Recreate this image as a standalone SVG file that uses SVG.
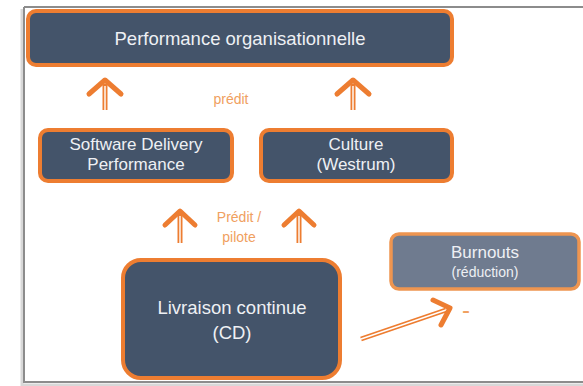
<svg xmlns="http://www.w3.org/2000/svg" width="583" height="386" viewBox="0 0 583 386">
<style>
.box{fill:#44546A;stroke:#ED7D31;stroke-width:4}
.lbl{font-family:"Liberation Sans",Arial,sans-serif;fill:#EEF0F4;text-anchor:middle}
.ann{font-family:"Liberation Sans",Arial,sans-serif;fill:#F0A060;text-anchor:middle;font-size:14px}
.shaft{stroke:#ED7D31;stroke-width:5;fill:none}
.gap{stroke:#FFFFFF;stroke-width:1.4;fill:none}
.head{stroke:#ED7D31;stroke-width:5;fill:none;stroke-linecap:round;stroke-linejoin:round}
</style>
<rect width="583" height="386" fill="#FFFFFF"/>
<g id="frame">
<path d="M22,9 V385 H583" fill="none" stroke="#D8D8D8" stroke-width="3"/>
<path d="M24,7 V382 H583 M24,7 H583" fill="none" stroke="#8C8C8C" stroke-width="2"/>
</g>
<g id="connectors">
<g id="a1">
<line class="shaft" x1="105" y1="84" x2="105" y2="110"/>
<line class="gap" x1="105" y1="86" x2="105" y2="110"/>
<path class="head" d="M89,94 L105,80 L121,94"/>
</g>
<g id="a2">
<line class="shaft" x1="353" y1="84" x2="353" y2="110"/>
<line class="gap" x1="353" y1="86" x2="353" y2="110"/>
<path class="head" d="M337,94 L353,80 L369,94"/>
</g>
<g id="a3">
<line class="shaft" x1="180" y1="214" x2="180" y2="243"/>
<line class="gap" x1="180" y1="216" x2="180" y2="243"/>
<path class="head" d="M165,225 L180,211 L195,225"/>
</g>
<g id="a4">
<line class="shaft" x1="299" y1="214" x2="299" y2="243"/>
<line class="gap" x1="299" y1="216" x2="299" y2="243"/>
<path class="head" d="M284,225 L299,211 L314,225"/>
</g>
<g id="a5">
<line class="shaft" x1="361" y1="339" x2="446" y2="310"/>
<line class="gap" x1="361" y1="339" x2="446" y2="310"/>
<path class="head" d="M433,300 L450,308 L441,325"/>
</g>
<text class="ann" x="231" y="104">prédit</text>
<text class="ann" x="239" y="222">Prédit /</text>
<text class="ann" x="239" y="242">pilote</text>
<text class="ann" x="466" y="318" style="font-size:24px">-</text>
</g>
<g id="n-org">
<rect class="box" x="28" y="11" width="424" height="54" rx="8"/>
<text class="lbl" x="240" y="45" font-size="18.5px">Performance organisationnelle</text>
</g>
<g id="n-sdp">
<rect class="box" x="40" y="130" width="192" height="51" rx="8"/>
<text class="lbl" x="136" y="150" font-size="17px">Software Delivery</text>
<text class="lbl" x="136" y="170" font-size="17px">Performance</text>
</g>
<g id="n-culture">
<rect class="box" x="261" y="130" width="191" height="51" rx="8"/>
<text class="lbl" x="356" y="150" font-size="17px">Culture</text>
<text class="lbl" x="356" y="170" font-size="17px">(Westrum)</text>
</g>
<g id="n-burnouts">
<rect x="391" y="234" width="188" height="55" rx="8" fill="#6F7B8F" stroke="#EE9550" stroke-width="3.5"/>
<text class="lbl" x="485" y="258" font-size="17px">Burnouts</text>
<text class="lbl" x="485" y="277" font-size="14px">(réduction)</text>
</g>
<g id="n-cd">
<rect class="box" x="123" y="260" width="217" height="118" rx="18"/>
<text class="lbl" x="232" y="314" font-size="18.5px">Livraison continue</text>
<text class="lbl" x="232" y="339" font-size="18.5px">(CD)</text>
</g>
</svg>
